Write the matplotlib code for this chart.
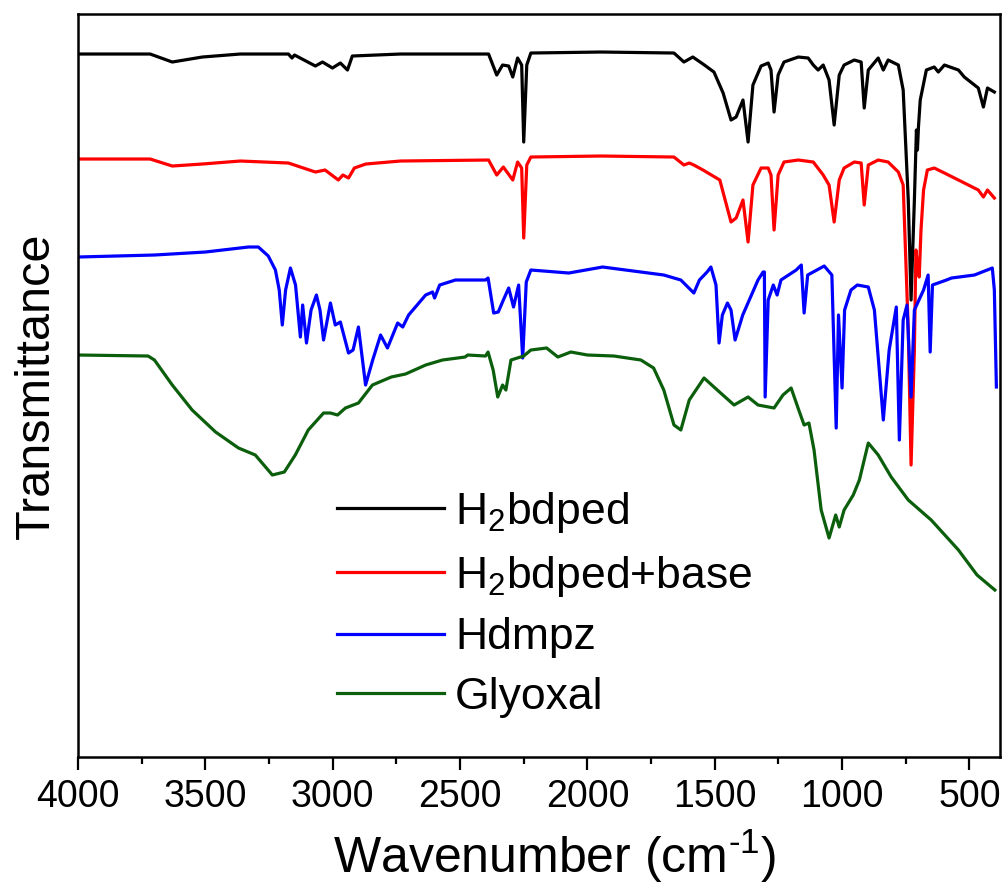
import numpy as np
import matplotlib
matplotlib.use('Agg')
import matplotlib.pyplot as plt
from matplotlib.ticker import MultipleLocator

plt.rcParams['font.family'] = ['Liberation Sans', 'DejaVu Sans']
plt.rcParams['mathtext.fontset'] = 'custom'
plt.rcParams['mathtext.rm'] = 'Liberation Sans'

# FTIR spectra (wavenumber in cm-1, transmittance in a.u., stacked with offsets)
black_wn = [4000, 3717, 3630, 3512, 3363, 3174, 3160, 3150, 3068, 3040, 3001, 2970, 2942, 2923,
            2734, 2388, 2356, 2333, 2309, 2293, 2274, 2258, 2250, 2238, 2222, 1947, 1660, 1621,
            1586, 1546, 1503, 1467, 1436, 1416, 1389, 1369, 1350, 1318, 1290, 1279, 1267, 1251,
            1228, 1172, 1133, 1113, 1094, 1074, 1051, 1031, 1011, 992, 952, 925, 913, 897, 858,
            838, 819, 779, 760, 740, 729, 716, 708, 704, 700, 693, 669, 638, 622, 598, 543, 520,
            465, 445, 429, 402]
black_t = [703, 703, 695, 700, 703, 703, 699, 702, 691, 695, 689, 694, 687, 701,
           703, 703, 682, 692, 691, 680, 699, 692, 615, 692, 704, 705, 704, 695,
           700, 693, 685, 664, 637, 640, 657, 615, 672, 691, 694, 687, 645, 682,
           695, 700, 699, 692, 687, 692, 677, 632, 682, 692, 697, 695, 649, 687, 699,
           687, 697, 692, 667, 557, 457, 557, 627, 607, 630, 657, 687, 690, 685, 692, 687, 680,
           669, 650, 669, 665]

red_wn = [4000, 3717, 3630, 3512, 3363, 3174, 3068, 3030, 2978, 2960, 2938, 2915, 2870, 2734,
          2388, 2356, 2330, 2293, 2274, 2258, 2250, 2238, 2222, 1947, 1660, 1621, 1600, 1582,
          1546, 1480, 1436, 1416, 1389, 1369, 1350, 1318, 1290, 1279, 1267, 1251, 1228, 1172,
          1113, 1074, 1051, 1031, 1011, 992, 952, 925, 913, 897, 858, 819, 779, 760, 740, 729,
          716, 710, 704, 697, 690, 680, 665, 638, 598, 543, 465, 445, 429, 402]
red_t = [598, 598, 591, 593, 596, 594, 585, 587, 577, 582, 579, 589, 593, 596,
         597, 582, 590, 577, 595, 589, 519, 592, 600, 601, 600, 592, 594, 592,
         587, 577, 535, 539, 557, 515, 572, 589, 589, 582, 527, 582, 595, 597,
         595, 582, 572, 535, 577, 589, 595, 594, 552, 592, 597, 595, 585, 572, 427, 292,
         407, 507, 492, 480, 527, 567, 587, 589, 584, 577, 567, 560, 567, 559]

blue_wn = [4000, 3700, 3500, 3331, 3292, 3253, 3225, 3210, 3198, 3185, 3166, 3146, 3127, 3118,
           3103, 3085, 3064, 3050, 3036, 3009, 2990, 2970, 2938, 2920, 2899, 2871, 2843, 2812,
           2785, 2745, 2725, 2702, 2635, 2608, 2600, 2580, 2518, 2400, 2390, 2368, 2350, 2330,
           2309, 2290, 2270, 2254, 2240, 2222, 2073, 1940, 1700, 1633, 1582, 1560, 1530, 1515,
           1495, 1483, 1470, 1450, 1436, 1420, 1390, 1330, 1310, 1305, 1302, 1290, 1270, 1255,
           1240, 1180, 1160, 1149, 1135, 1070, 1040, 1023, 1014, 1000, 990, 965, 940, 897, 873,
           838, 815, 787, 775, 760, 745, 729, 716, 680, 662, 654, 645, 590, 570, 480, 410, 402,
           394]
blue_t = [500, 502, 505, 510, 510, 501, 487, 467, 432, 467, 489, 472, 420, 452,
          414, 447, 462, 447, 417, 454, 432, 435, 404, 407, 430, 372, 397, 422,
          409, 434, 430, 442, 462, 465, 459, 472, 477, 477, 479, 444, 445, 457,
          469, 450, 472, 399, 475, 487, 484, 490, 482, 477, 464, 477, 485, 490,
          472, 414, 442, 454, 447, 417, 442, 477, 485, 485, 360, 457, 472, 462,
          477, 487, 492, 444, 482, 491, 482, 329, 442, 369, 447, 467, 472, 470, 447,
          337, 407, 450, 317, 437, 452, 360, 447, 467, 482, 405, 472, 477, 479, 482, 489, 467,
          370]

green_wn = [4000, 3725, 3700, 3630, 3552, 3460, 3370, 3304, 3237, 3190, 3147, 3096, 3036, 3009,
            2981, 2950, 2899, 2844, 2770, 2714, 2635, 2569, 2480, 2470, 2400, 2390, 2370, 2352,
            2333, 2320, 2300, 2250, 2222, 2160, 2116, 2065, 2000, 1896, 1790, 1740, 1700, 1660,
            1633, 1600, 1542, 1490, 1424, 1369, 1330, 1267, 1232, 1200, 1170, 1149, 1130, 1110,
            1082, 1051, 1025, 1011, 992, 956, 932, 897, 858, 807, 740, 650, 543, 470, 400]
green_t = [402, 401, 397, 372, 347, 325, 309, 302, 282, 285, 302, 327, 344, 344,
           342, 349, 354, 372, 380, 383, 392, 397, 400, 402, 401, 405, 387, 360,
           372, 367, 397, 401, 407, 409, 400, 405, 402, 401, 397, 389, 367, 332,
           327, 357, 379, 367, 352, 360, 352, 349, 362, 369, 347, 332, 334, 307,
           247, 219, 242, 230, 247, 262, 277, 314, 302, 280, 257, 237, 207, 182, 167]

labels = ['H$_\\mathregular{2}$bdped', 'H$_\\mathregular{2}$bdped+base', 'Hdmpz', 'Glyoxal']
colors = ['black', 'red', 'blue', '#0b5e0b']


def main():
    fig = plt.figure(figsize=(10.07, 8.93), dpi=100)
    ax = fig.add_axes([0.0775, 0.1523, 0.9155, 0.832])

    series = [(black_wn, black_t), (red_wn, red_t), (blue_wn, blue_t), (green_wn, green_t)]
    for (wn, t), lab, col in zip(series, labels, colors):
        ax.plot(wn, t, color=col, lw=2.3, label=lab)

    ax.set_xlim(4000, 380)
    ax.set_ylim(0, 743)
    ax.xaxis.set_major_locator(MultipleLocator(500))
    ax.xaxis.set_minor_locator(MultipleLocator(250))
    ax.set_yticks([])
    ax.tick_params(axis='x', which='major', length=9, width=1.6, labelsize=27, pad=7)
    ax.tick_params(axis='x', which='minor', length=5, width=1.6)
    for sp in ax.spines.values():
        sp.set_linewidth(1.8)

    ax.set_xlabel('Wavenumber (cm$^{\\text{-1}}$)', fontsize=36)
    ax.xaxis.set_label_coords(0.517, -0.095)
    ax.set_ylabel('Transmittance', fontsize=35, labelpad=14)

    ax.legend(loc='center left', bbox_to_anchor=(0.281, 0.206), frameon=False,
              fontsize=32, handlelength=2.4, handletextpad=0.25, labelspacing=0.42,
              borderpad=0, borderaxespad=0)

    fig.savefig('out.png', dpi=100)


if __name__ == '__main__':
    main()
